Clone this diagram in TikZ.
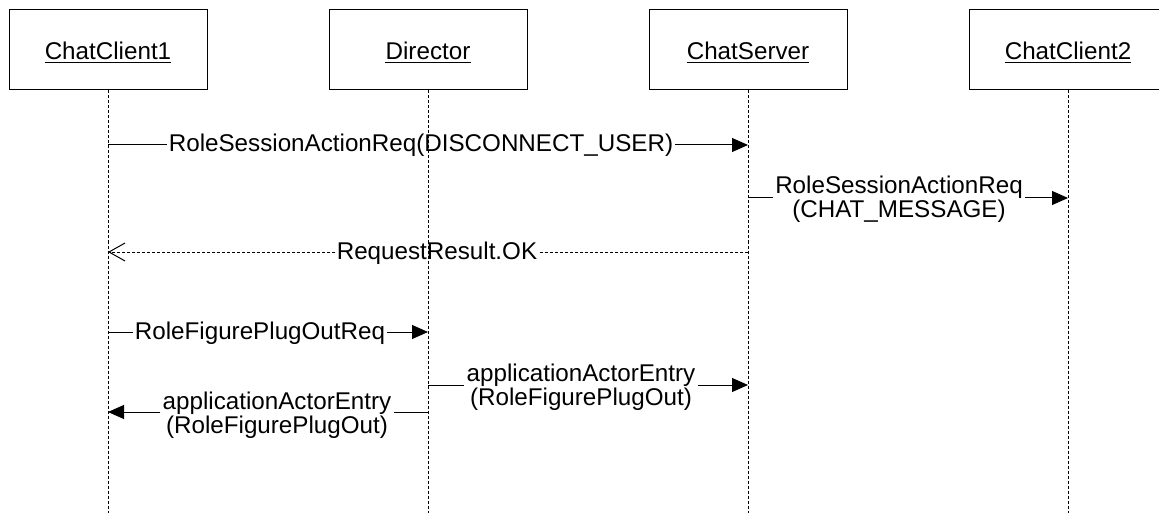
\documentclass[tikz,border=0pt]{standalone}
\usepackage{fontspec}
\setmainfont{Liberation Sans}
\usetikzlibrary{arrows.meta}
\begin{document}
\begin{tikzpicture}[x=1pt,y=1pt,
  every node/.style={font=\fontsize{24.2}{26}\selectfont},
  obj/.style={draw, line width=1pt, minimum width=198pt, minimum height=80pt, inner sep=0pt},
  objlbl/.style={anchor=base, inner sep=0pt},
  lifeline/.style={line width=1pt, dash pattern=on 3pt off 2pt},
  msg/.style={line width=1pt},
  retline/.style={line width=1pt, dash pattern=on 3pt off 2pt},
  call/.style={msg, -{Triangle[length=16pt,width=14pt]}},
  ret/.style={retline, -{Straight Barb[length=16pt,width=18pt]}},
  lbl/.style={anchor=base, inner xsep=2pt, inner ysep=0pt},
  uline/.style={line width=1pt},
]
\useasboundingbox (0,0) rectangle (1159,-513);
\clip (0,0) rectangle (1159,-513);

% objects
\node[obj] (b1) at (108,-50) {};
\node[obj] (b2) at (428,-50) {};
\node[obj] (b3) at (748,-50) {};
\node[obj] (b4) at (1068,-50) {};
\node[objlbl] (n1) at (108,-60) {ChatClient1};
\node[objlbl] (n2) at (428,-60) {Director};
\node[objlbl] (n3) at (748,-60) {ChatServer};
\node[objlbl] (n4) at (1068,-60) {ChatClient2};
\foreach \n in {n1,n2,n3,n4}
  \draw[uline] ([yshift=-3pt]\n.base west) -- ([yshift=-3pt]\n.base east);

% lifelines
\coordinate (e1) at (108,-513);
\coordinate (e2) at (428,-513);
\coordinate (e3) at (748,-513);
\coordinate (e4) at (1068,-513);
\draw[lifeline] (b1.south) -- (e1);
\draw[lifeline] (b2.south) -- (e2);
\draw[lifeline] (b3.south) -- (e3);
\draw[lifeline] (b4.south) -- (e4);

% message 1
\coordinate (m1a) at (108,-145);
\coordinate (m1b) at (748,-145);
\node[lbl] (l1) at (421,-152) {RoleSessionActionReq(DISCONNECT\_USER)};
\draw[msg] (m1a) -- (m1a -| l1.west);
\draw[call] (m1b -| l1.east) -- (m1b);

% message 2
\coordinate (m2a) at (748,-198);
\coordinate (m2b) at (1068,-198);
\node[lbl] (l2) at (899,-194) {RoleSessionActionReq};
\node[lbl] (l2b) at (899,-218) {(CHAT\_MESSAGE)};
\draw[msg] (m2a) -- (m2a -| l2.west);
\draw[call] (m2b -| l2.east) -- (m2b);

% message 3 (return)
\coordinate (m3a) at (748,-252);
\coordinate (m3b) at (108,-252);
\node[lbl] (l3) at (437,-259) {RequestResult.OK};
\draw[retline] (m3a) -- (m3a -| l3.east);
\draw[ret] (m3b -| l3.west) -- (m3b);

% message 4
\coordinate (m4a) at (108,-332);
\coordinate (m4b) at (428,-332);
\node[lbl] (l4) at (260,-339) {RoleFigurePlugOutReq};
\draw[msg] (m4a) -- (m4a -| l4.west);
\draw[call] (m4b -| l4.east) -- (m4b);

% message 5
\coordinate (m5a) at (428,-385);
\coordinate (m5b) at (748,-385);
\node[lbl] (l5) at (581,-381) {applicationActorEntry};
\node[lbl] (l5b) at (581,-405) {(RoleFigurePlugOut)};
\draw[msg] (m5a) -- (m5a -| l5.west);
\draw[call] (m5b -| l5.east) -- (m5b);

% message 6
\coordinate (m6a) at (428,-412);
\coordinate (m6b) at (108,-412);
\node[lbl] (l6) at (277,-409) {applicationActorEntry};
\node[lbl] (l6b) at (277,-433) {(RoleFigurePlugOut)};
\draw[msg] (m6a) -- (m6a -| l6.east);
\draw[call] (m6b -| l6.west) -- (m6b);
\end{tikzpicture}
\end{document}
